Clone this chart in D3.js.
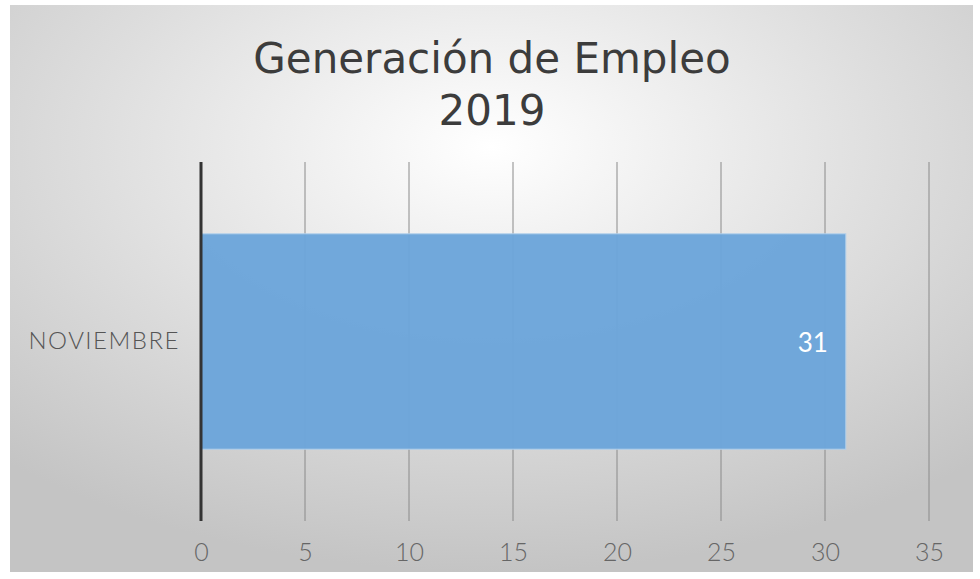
<!DOCTYPE html>
<html>
<head>
<meta charset="utf-8">
<script src="https://cdn.jsdelivr.net/npm/d3@7"></script>
<style>
  body { margin: 0; background: #fff; }
</style>
</head>
<body>
<div id="chart"></div>
<script>
// data
var titleLines = ["Generación de Empleo", "2019"];
var categories = ["NOVIEMBRE"];
var values = [31];
var xTicks = [0, 5, 10, 15, 20, 25, 30, 35];

var w = 980;
var h = 579;

var svg = d3.select('#chart')
  .append('svg')
    .attr('width', w)
    .attr('height', h);

// background gradient
var defs = svg.append('defs');
var grad = defs.append('radialGradient')
  .attr('id', 'bg')
  .attr('cx', '50%')
  .attr('cy', '25%')
  .attr('r', '75%');
grad.append('stop').attr('offset', '0%').attr('stop-color', '#ffffff');
grad.append('stop').attr('offset', '55%').attr('stop-color', '#dedede');
grad.append('stop').attr('offset', '100%').attr('stop-color', '#c4c4c4');

svg.append('rect')
  .attr('x', 10)
  .attr('y', 5)
  .attr('width', 963)
  .attr('height', 567)
  .attr('fill', 'url(#bg)');

// title
svg.append('g')
  .selectAll('text')
  .data(titleLines)
  .enter()
  .append('text')
    .attr('x', 492)
    .attr('y', function(d, i) { return 73 + i * 52; })
    .attr('text-anchor', 'middle')
    .style('font-family', '"DejaVu Sans", sans-serif')
    .style('font-size', '42px')
    .attr('fill', '#3c3c3c')
    .text(function(d) { return d; });

// scales
var x = d3.scaleLinear()
  .domain([0, 35])
  .range([201, 929]);

var y = d3.scaleBand()
  .domain(categories)
  .range([162, 521])
  .paddingInner(0.4)
  .paddingOuter(0.2);

// gridlines
svg.append('g')
  .selectAll('line')
  .data(xTicks.filter(function(d) { return d > 0; }))
  .enter()
  .append('line')
    .attr('x1', function(d) { return x(d); })
    .attr('x2', function(d) { return x(d); })
    .attr('y1', 162)
    .attr('y2', 521)
    .attr('stroke', '#8a8a8a')
    .attr('stroke-width', 1);

// bars
svg.append('g')
  .selectAll('rect')
  .data(values)
  .enter()
  .append('rect')
    .attr('x', x(0))
    .attr('y', function(d, i) { return y(categories[i]); })
    .attr('width', function(d) { return x(d) - x(0); })
    .attr('height', y.bandwidth())
    .attr('fill', '#6ca5da')
    .attr('fill-opacity', 0.97)
    .attr('stroke', '#b3d0ec')
    .attr('stroke-width', 1);

// value labels
svg.append('g')
  .selectAll('text')
  .data(values)
  .enter()
  .append('text')
    .attr('x', function(d) { return x(d) - 18; })
    .attr('y', function(d, i) { return y(categories[i]) + y.bandwidth() / 2 + 10; })
    .attr('text-anchor', 'end')
    .style('font-family', 'Lato, sans-serif')
    .style('font-size', '26px')
    .style('font-weight', 400)
    .attr('fill', '#ffffff')
    .text(function(d) { return d; });

// zero line
svg.append('line')
  .attr('x1', x(0))
  .attr('x2', x(0))
  .attr('y1', 162)
  .attr('y2', 521)
  .attr('stroke', '#333333')
  .attr('stroke-width', 3);

// x axis labels
var xAxis = d3.axisBottom(x)
  .tickValues(xTicks)
  .tickSize(0)
  .tickPadding(0);

var xg = svg.append('g')
  .attr('transform', 'translate(0, 543)')
  .call(xAxis);
xg.select('.domain').remove();
xg.selectAll('text')
  .attr('dy', '0.71em')
  .style('font-family', 'Lato, sans-serif')
  .style('font-size', '25px')
  .style('font-weight', 300)
  .attr('fill', '#666666');

// y axis labels
var yAxis = d3.axisLeft(y)
  .tickSize(0)
  .tickPadding(0);

var yg = svg.append('g')
  .attr('transform', 'translate(180, 0)')
  .call(yAxis);
yg.select('.domain').remove();
yg.selectAll('text')
  .style('font-family', 'Lato, sans-serif')
  .style('font-size', '24px')
  .style('font-weight', 300)
  .style('letter-spacing', '1.5px')
  .attr('fill', '#555555');
</script>
</body>
</html>
